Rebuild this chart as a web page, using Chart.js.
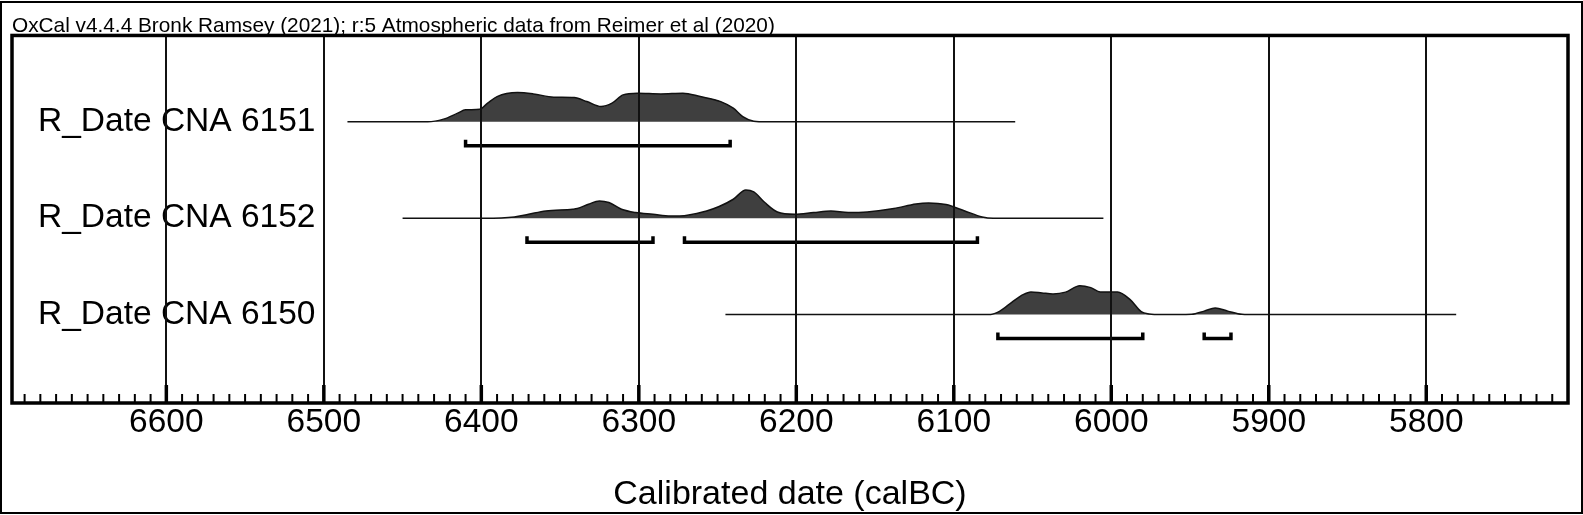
<!DOCTYPE html>
<html>
<head>
<meta charset="utf-8">
<title>OxCal calibrated dates</title>
<script src="https://cdn.jsdelivr.net/npm/chart.js@4.4.1/dist/chart.umd.min.js"></script>
<style>
  html, body { margin: 0; padding: 0; background: #fff; overflow: hidden; }
  #wrap { width: 1583px; height: 515px; position: relative; }
</style>
</head>
<body>
<div id="wrap"><canvas id="oxcalChart"></canvas></div>
<script>
// row labels, top to bottom
const rowLabels = ['R_Date CNA 6151', 'R_Date CNA 6152', 'R_Date CNA 6150'];

// probability curves (calBC year, relative height)
const years6151 = [6485, 6434, 6424, 6415, 6410, 6401, 6396, 6390, 6377, 6367, 6354, 6341, 6333, 6324, 6317, 6310, 6301, 6286, 6272, 6261, 6248, 6240, 6234, 6227, 6219, 6061];
const dens6151  = [0, 0, 2.7, 8.7, 12, 12.7, 18.7, 25.3, 29.3, 28, 24.7, 24.3, 20.3, 15.3, 18.7, 27, 28.7, 28, 28.7, 25.3, 20.3, 13.7, 5.3, 0.7, 0, 0];

const years6152 = [6450, 6398, 6379, 6370, 6359, 6342, 6339, 6332, 6325, 6319, 6311, 6302, 6291, 6280, 6274, 6257, 6249, 6240, 6232, 6227, 6220, 6212, 6201, 6189, 6178, 6167, 6155, 6138, 6124, 6116, 6105, 6093, 6082, 6075, 6005];
const dens6152  = [0, 0, 1.3, 4, 7.3, 9, 9.7, 14, 17.3, 15.7, 9, 5.7, 4, 2.3, 2.3, 7.3, 11.7, 19, 28.3, 26.3, 15.7, 6.3, 4, 5.7, 7.3, 5.7, 6.3, 9.7, 14.3, 15.3, 13.7, 7.3, 1.3, 0, 0];

const years6150 = [6245, 6078, 6071, 6063, 6056, 6051, 6044, 6037, 6029, 6020, 6013, 6007, 5996, 5988, 5981, 5976, 5968, 5949, 5941, 5934, 5926, 5917, 5908, 5781];
const dens6150  = [0, 0, 3.3, 12.5, 20, 22.7, 21.7, 20.7, 22.5, 29, 27, 22.7, 22.7, 15, 3, 0.7, 0, 0.3, 3.5, 6.7, 3.5, 0.3, 0, 0];

// 95.4% ranges (from, to) calBC
const ranges6151 = [[6410, 6242]];
const ranges6152 = [[6371, 6291], [6271, 6085]];
const ranges6150 = [[6072, 5980], [5941, 5924]];

// axis
const xMin = 5710;
const xMax = 6698;
const majorStep = 100;
const minorStep = 10;

const rows = [
    { years: years6151, dens: dens6151, ranges: ranges6151 },
    { years: years6152, dens: dens6152, ranges: ranges6152 },
    { years: years6150, dens: dens6150, ranges: ranges6150 }
];

const pxPerRow = 96.5;          // vertical spacing between rows
const bracketDrop = 24 / pxPerRow;
const bracketTick = 6 / pxPerRow;

const datasets = [];
rows.forEach((row, i) => {
    datasets.push({
        data: row.years.map((yr, j) => ({ x: yr, y: i - row.dens[j] / pxPerRow })),
        fill: { value: i },
        backgroundColor: '#3f3f3f',
        borderColor: '#111',
        borderWidth: 1.5,
        pointRadius: 0,
        cubicInterpolationMode: 'monotone'
    });
    row.ranges.forEach(r => {
        const yb = i + bracketDrop;
        datasets.push({
            data: [
                { x: r[0], y: yb - bracketTick },
                { x: r[0], y: yb },
                { x: r[1], y: yb },
                { x: r[1], y: yb - bracketTick }
            ],
            fill: false,
            borderColor: '#000',
            borderWidth: 3.5,
            pointRadius: 0,
            tension: 0
        });
    });
});

// plot frame, outer border and the small tick marks along the bottom
const framePlugin = {
    id: 'frame',
    afterDraw(chart) {
        const { ctx, chartArea: a } = chart;
        const x = chart.scales.x;
        ctx.save();
        ctx.strokeStyle = '#000';
        for (let v = Math.ceil(xMin / minorStep) * minorStep; v <= xMax; v += minorStep) {
            const px = x.getPixelForValue(v);
            const major = v % majorStep === 0;
            ctx.lineWidth = major ? 3.5 : 2;
            ctx.beginPath();
            ctx.moveTo(px, a.bottom);
            ctx.lineTo(px, a.bottom - (major ? 18 : 9));
            ctx.stroke();
        }
        ctx.lineWidth = 3.5;
        ctx.strokeRect(a.left, a.top, a.right - a.left, a.bottom - a.top);
        ctx.lineWidth = 2;
        ctx.strokeRect(1, 2, chart.width - 2, chart.height - 4);
        ctx.restore();
    }
};

const fontFamily = "'Liberation Sans', Arial, sans-serif";

new Chart(document.getElementById('oxcalChart'), {
    type: 'line',
    data: { datasets: datasets },
    options: {
        responsive: true,
        maintainAspectRatio: false,
        animation: false,
        layout: { padding: { left: 12, right: 15, top: 0, bottom: 0 } },
        plugins: {
            legend: { display: false },
            tooltip: { enabled: false },
            title: {
                display: true,
                text: 'OxCal v4.4.4 Bronk Ramsey (2021); r:5 Atmospheric data from Reimer et al (2020)',
                align: 'start',
                color: '#000',
                font: { family: fontFamily, size: 20.8, weight: 'normal' },
                padding: { top: 13.5, bottom: -3 }
            }
        },
        scales: {
            x: {
                type: 'linear',
                min: xMin,
                max: xMax,
                reverse: true,
                afterFit: (scale) => { scale.height = 112; },
                grid: { color: '#111', lineWidth: 2, drawTicks: false, z: 1 },
                border: { display: false },
                ticks: {
                    stepSize: majorStep,
                    includeBounds: false,
                    autoSkip: false,
                    maxRotation: 0,
                    padding: 0,
                    color: '#000',
                    font: { family: fontFamily, size: 33.5 },
                    callback: (v) => String(v)
                },
                title: {
                    display: true,
                    text: 'Calibrated date (calBC)',
                    color: '#000',
                    font: { family: fontFamily, size: 34 },
                    padding: 0
                }
            },
            y: {
                type: 'linear',
                reverse: true,
                min: -86.5 / pxPerRow,
                max: 2 + 88.5 / pxPerRow,
                afterFit: (scale) => {
                    scale.width = 0;
                    scale.paddingTop = 0;
                    scale.paddingBottom = 0;
                },
                afterBuildTicks: (scale) => {
                    scale.ticks = rowLabels.map((_, i) => ({ value: i }));
                },
                grid: { display: false, drawTicks: false },
                border: { display: false },
                ticks: {
                    mirror: true,
                    padding: 26,
                    autoSkip: false,
                    color: '#000',
                    font: { family: fontFamily, size: 33.5 },
                    callback: (v) => rowLabels[v]
                }
            }
        }
    },
    plugins: [framePlugin]
});
</script>
</body>
</html>
